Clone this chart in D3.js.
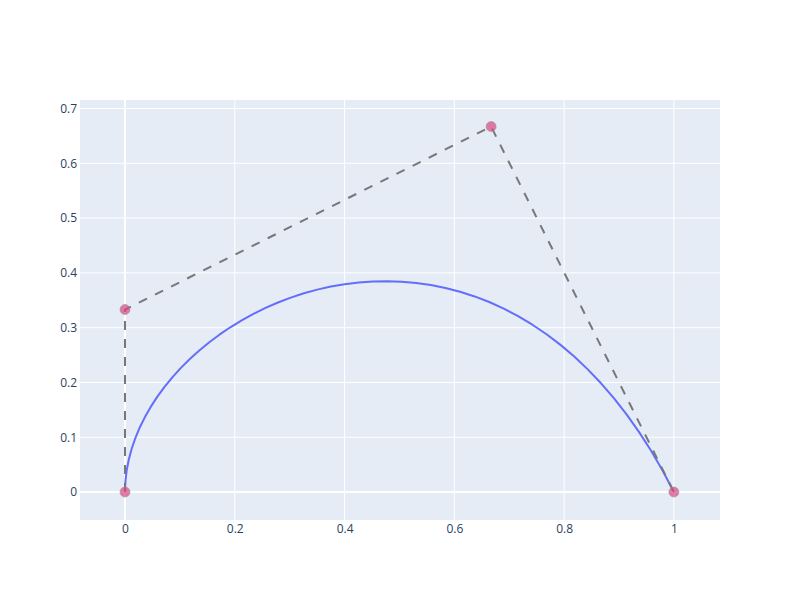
<!DOCTYPE html>
<html>
<head>
<meta charset="utf-8">
<script src="https://cdn.jsdelivr.net/npm/d3@7"></script>
<style>
  body { margin: 0; background: #fff; }
  .tick text { font-family: "Open Sans", sans-serif; font-size: 12px; fill: #2a3f5f; }
</style>
</head>
<body>
<div class="svg-container"></div>
<script>
var width = 800;
var height = 600;

var padding = { "top": 100, "right": 80, "bottom": 80, "left": 80 };

// curve points
var curveX = [0, 0.0008, 0.0031, 0.0070, 0.0123, 0.0190, 0.0271, 0.0365, 0.0471, 0.0590,
              0.0720, 0.0862, 0.1014, 0.1176, 0.1348, 0.1530, 0.1720, 0.1919, 0.2125, 0.2339,
              0.2560, 0.2787, 0.3020, 0.3259, 0.3502, 0.3750, 0.4002, 0.4257, 0.4516, 0.4777,
              0.5040, 0.5305, 0.5571, 0.5837, 0.6104, 0.6370, 0.6636, 0.6900, 0.7162, 0.7422,
              0.7680, 0.7934, 0.8185, 0.8431, 0.8673, 0.8910, 0.9141, 0.9366, 0.9585, 0.9796, 1];
var curveY = [0, 0.0200, 0.0399, 0.0598, 0.0795, 0.0990, 0.1183, 0.1373, 0.1559, 0.1742,
              0.1920, 0.2094, 0.2262, 0.2424, 0.2580, 0.2730, 0.2872, 0.3007, 0.3133, 0.3251,
              0.3360, 0.3459, 0.3548, 0.3627, 0.3694, 0.3750, 0.3794, 0.3825, 0.3844, 0.3849,
              0.3840, 0.3817, 0.3779, 0.3725, 0.3656, 0.3570, 0.3468, 0.3348, 0.3210, 0.3054,
              0.2880, 0.2686, 0.2473, 0.2239, 0.1985, 0.1710, 0.1413, 0.1094, 0.0753, 0.0388, 0];

// control polygon
var ctrlX = [0, 0, 0.667, 1];
var ctrlY = [0, 0.333, 0.667, 0];

var xTicks = [0, 0.2, 0.4, 0.6, 0.8, 1];
var yTicks = [0, 0.1, 0.2, 0.3, 0.4, 0.5, 0.6, 0.7];

var innerW = width - padding.left - padding.right;
var innerH = height - padding.top - padding.bottom;

var svg = d3.select(".svg-container")
    .append("svg")
    .attr("width", width)
    .attr("height", height);

var g = svg.append("g")
    .attr("transform", "translate(" + padding.left + "," + padding.top + ")");

var scaleX = d3.scaleLinear().domain([-0.082, 1.084]).range([0, innerW]);
var scaleY = d3.scaleLinear().domain([-0.051, 0.7155]).range([innerH, 0]);

// background
g.append("rect")
    .attr("width", innerW)
    .attr("height", innerH)
    .attr("fill", "#e5ecf6");

// grid
g.append("g")
    .selectAll("line")
    .data(xTicks)
    .enter()
    .append("line")
    .attr("x1", function(d) { return scaleX(d); })
    .attr("x2", function(d) { return scaleX(d); })
    .attr("y1", 0)
    .attr("y2", innerH)
    .attr("stroke", "#fff")
    .attr("stroke-width", function(d) { return d === 0 ? 2 : 1; });

g.append("g")
    .selectAll("line")
    .data(yTicks)
    .enter()
    .append("line")
    .attr("y1", function(d) { return scaleY(d); })
    .attr("y2", function(d) { return scaleY(d); })
    .attr("x1", 0)
    .attr("x2", innerW)
    .attr("stroke", "#fff")
    .attr("stroke-width", function(d) { return d === 0 ? 2 : 1; });

// axes (labels only)
var xAxis = g.append("g")
    .attr("transform", "translate(0," + innerH + ")")
    .call(d3.axisBottom(scaleX).tickValues(xTicks).tickSize(0).tickPadding(4)
        .tickFormat(d3.format("~g")));
xAxis.select(".domain").remove();

var yAxis = g.append("g")
    .call(d3.axisLeft(scaleY).tickValues(yTicks).tickSize(0).tickPadding(3)
        .tickFormat(d3.format("~g")));
yAxis.select(".domain").remove();

// bezier curve
var curveData = curveX.map(function(x, i) { return [x, curveY[i]]; });
var ctrlData = ctrlX.map(function(x, i) { return [x, ctrlY[i]]; });

var line = d3.line()
    .x(function(d) { return scaleX(d[0]); })
    .y(function(d) { return scaleY(d[1]); });

g.append("path")
    .datum(curveData)
    .attr("fill", "none")
    .attr("stroke", "#636efa")
    .attr("stroke-width", 2)
    .attr("stroke-linejoin", "round")
    .attr("d", line);

g.append("path")
    .datum(ctrlData)
    .attr("fill", "none")
    .attr("stroke", "#777")
    .attr("stroke-width", 2)
    .style("stroke-dasharray", "9,9")
    .attr("d", line);

g.selectAll("circle")
    .data(ctrlData)
    .enter()
    .append("circle")
    .attr("cx", function(d) { return scaleX(d[0]); })
    .attr("cy", function(d) { return scaleY(d[1]); })
    .attr("r", 5)
    .attr("fill", "rgba(220,70,130,0.7)")
    .attr("stroke", "rgba(150,150,150,0.6)")
    .attr("stroke-width", 1);
</script>
</body>
</html>
